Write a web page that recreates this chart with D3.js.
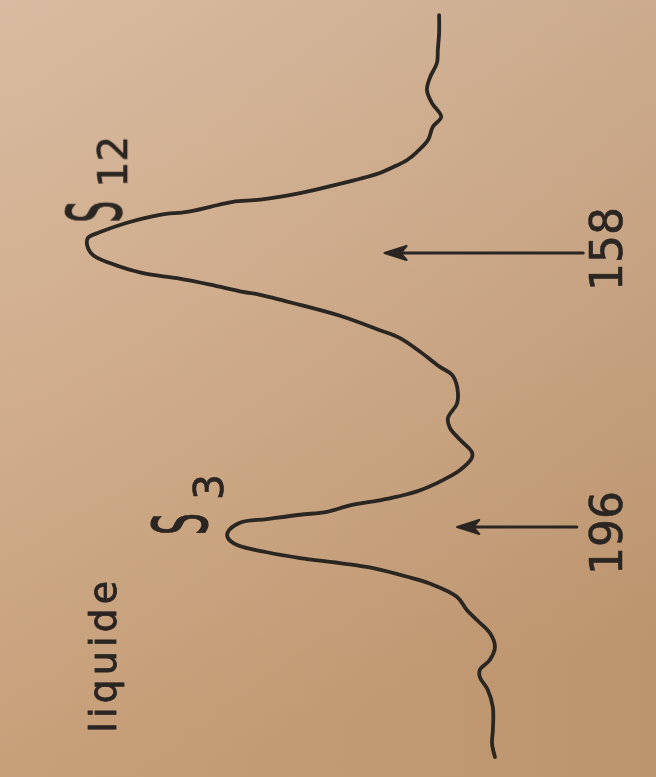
<!DOCTYPE html>
<html>
<head>
<meta charset="utf-8">
<script src="https://cdn.jsdelivr.net/npm/d3@7"></script>
<style>
  html, body { margin: 0; padding: 0; background: #cfab8a; }
  svg { display: block; }
</style>
</head>
<body>
<svg id="chart" width="656" height="777"></svg>
<script>
// Raman shift (cm-1) along the recorded trace, from the top of the sheet down
const shift = [125.0,127.5,129.8,131.6,133.7,135.4,137.2,139.1,140.5,142.3,
  144.0,145.1,146.1,146.9,148.4,149.7,150.6,150.9,151.6,152.3,
  152.7,153.8,155.1,155.9,156.9,158.3,159.4,160.8,161.5,162.4,
  163.4,163.8,165.2,166.7,168.7,169.8,171.7,173.8,174.9,176.6,
  178.8,180.9,182.3,183.9,185.6,186.4,188.1,189.5,190.9,191.8,
  192.3,193.0,193.9,194.3,194.9,195.4,196.7,197.5,198.5,199.5,
  200.3,201.0,201.7,202.9,204.0,205.7,207.5,208.9,210.7,212.6,
  214.4,215.8,216.8,218.6,221.0,224.2,226.0,227.9];

// Scattered intensity (arbitrary units) at each shift value
const intensity = [14.5,14.5,14.8,15.0,16.7,17.4,16.2,14.0,16.0,17.1,
  19.8,22.1,25.5,28.6,38.1,47.6,57.1,63.6,69.0,74.5,
  81.0,88.8,95.2,98.1,98.3,96.9,92.9,85.0,76.9,69.0,
  61.2,57.1,47.6,38.1,28.6,23.8,19.0,14.3,11.4,10.2,
  10.2,12.4,11.9,9.5,6.7,6.7,9.5,13.6,19.0,24.5,
  28.6,35.7,41.2,47.6,55.5,61.9,64.8,64.8,62.6,55.5,
  47.6,38.1,30.2,22.1,16.0,10.2,7.9,5.5,2.4,1.2,
  2.4,4.8,4.8,2.9,1.7,1.7,1.9,1.2];

// Marked band positions (cm-1) and their labels
const bands = [158, 196];
const bandLabels = ["158", "196"];

// Assignment of the two main bands (symmetry coordinates)
const peakSymbols = ["S", "S"];
const peakIndices = ["12", "3"];
const peakLabelShift = [153.8, 197.1];
const peakLabelLevel = [90.2, 69.8];
const peakIndexDrop = [6, 16];

const sampleLabel = "liquide";

const svg = d3.select("#chart");
const W = 656, H = 777;

// Paper background
const defs = svg.append("defs");
const gv = defs.append("linearGradient").attr("id", "paper")
  .attr("x1", 0).attr("y1", 0).attr("x2", 0.25).attr("y2", 1);
gv.append("stop").attr("offset", 0).attr("stop-color", "#d8b99e");
gv.append("stop").attr("offset", 0.45).attr("stop-color", "#d0ac8b");
gv.append("stop").attr("offset", 1).attr("stop-color", "#c49b73");
const gh = defs.append("linearGradient").attr("id", "shade")
  .attr("x1", 0).attr("y1", 0).attr("x2", 1).attr("y2", 0);
gh.append("stop").attr("offset", 0).attr("stop-color", "#fff").attr("stop-opacity", 0.03);
gh.append("stop").attr("offset", 1).attr("stop-color", "#000").attr("stop-opacity", 0.04);
defs.append("filter").attr("id", "soft")
  .append("feGaussianBlur").attr("stdDeviation", 0.45);

svg.append("rect").attr("width", W).attr("height", H).attr("fill", "url(#paper)");
svg.append("rect").attr("width", W).attr("height", H).attr("fill", "url(#shade)");

// Scales: shift runs down the page, intensity grows to the left
const y = d3.scaleLinear().domain([158, 196]).range([253, 527]);
const x = d3.scaleLinear().domain([0, 100]).range([500, 80]);

const ink = "#2b2521";
const font = "'DejaVu Sans', sans-serif";
const layer = svg.append("g").attr("filter", "url(#soft)");

const pts = shift.map((s, i) => ({ s, v: intensity[i] }));
const line = d3.line()
  .x(d => x(d.v))
  .y(d => y(d.s))
  .curve(d3.curveCatmullRom.alpha(0.5));

layer.append("path")
  .datum(pts)
  .attr("d", line)
  .attr("fill", "none")
  .attr("stroke", ink)
  .attr("stroke-width", 3.8)
  .attr("stroke-linejoin", "round")
  .attr("stroke-linecap", "round");

// Band arrows pointing at the marked positions
const arrowFrom = [-19.8, -18.3];
const arrowTo = [27.5, 10.2];
bands.forEach((b, i) => {
  const yy = y(b);
  const x0 = x(arrowFrom[i]), x1 = x(arrowTo[i]);
  layer.append("line")
    .attr("x1", x0).attr("y1", yy).attr("x2", x1 + 8).attr("y2", yy)
    .attr("stroke", ink).attr("stroke-width", 3).attr("stroke-linecap", "round");
  layer.append("path")
    .attr("d", `M${x1},${yy} L${x1 + 22},${yy - 7} L${x1 + 16},${yy} L${x1 + 22},${yy + 7} Z`)
    .attr("fill", ink).attr("stroke", ink).attr("stroke-width", 2.2)
    .attr("stroke-linejoin", "round");
  layer.append("text")
    .attr("transform", `translate(622,${yy - 4 + i * 10}) rotate(-90)`)
    .attr("text-anchor", "middle")
    .attr("font-family", font)
    .attr("font-size", 44)
    .attr("fill", ink)
    .attr("stroke", ink).attr("stroke-width", 0.6)
    .text(bandLabels[i]);
});

// Band assignments next to the two peaks
peakSymbols.forEach((sym, i) => {
  const g = layer.append("g")
    .attr("transform", `translate(${x(peakLabelLevel[i])},${y(peakLabelShift[i])}) rotate(-90)`);
  g.append("text")
    .attr("transform", "scale(0.46,1)")
    .attr("font-family", font)
    .attr("font-size", 75)
    .attr("fill", ink)
    .attr("stroke", ink).attr("stroke-width", 1.2)
    .text(sym);
  g.append("text")
    .attr("x", 35).attr("y", peakIndexDrop[i])
    .attr("font-family", font)
    .attr("font-size", 41)
    .attr("fill", ink)
    .attr("stroke", ink).attr("stroke-width", 0.6)
    .text(peakIndices[i]);
});

// Sample state
layer.append("text")
  .attr("transform", `translate(116,${y(214)}) rotate(-90)`)
  .attr("text-anchor", "middle")
  .attr("font-family", font)
  .attr("font-size", 38)
  .attr("fill", ink)
  .attr("stroke", ink).attr("stroke-width", 0.8)
  .attr("textLength", 152)
  .attr("lengthAdjust", "spacing")
  .text(sampleLabel);
</script>
</body>
</html>
